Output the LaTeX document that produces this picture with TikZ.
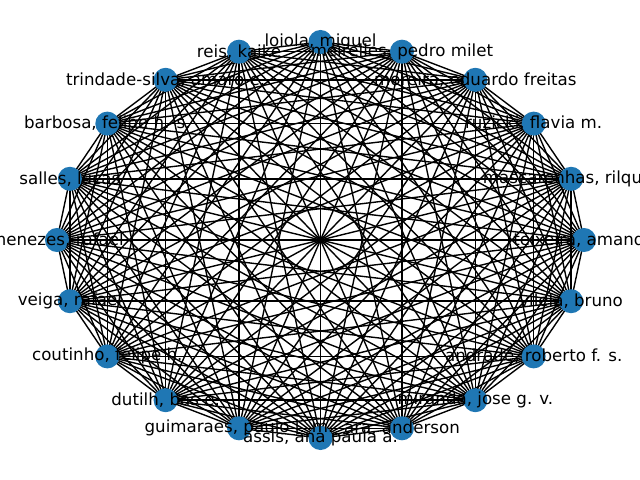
\documentclass[tikz,border=0pt]{standalone}
\usepackage{fontspec}
\setmainfont{DejaVu Sans}
\definecolor{nxblue}{HTML}{1F77B4}
\pgfdeclarelayer{bg}
\pgfsetlayers{bg,main}
\begin{document}
\begin{tikzpicture}[x=0.72pt,y=-0.72pt,
  vert/.style={circle,fill=nxblue,draw=none,minimum size=17.3pt,inner sep=0pt},
  lbl/.style={inner sep=0pt,font=\fontsize{12}{14}\selectfont,text=black},
  edge/.style={draw=black,line width=1pt}]
\useasboundingbox (0,0) rectangle (640,480);
\foreach \k in {0,...,19}
  \node[vert] (n\k) at ({320.5+263.5*cos(18*\k)},{240-198*sin(18*\k)}) {};
\begin{pgfonlayer}{bg}
\foreach \i in {0,...,18}{
  \pgfmathtruncatemacro{\s}{\i+1}
  \foreach \j in {\s,...,19}
    \draw[edge] (n\i.center) -- (n\j.center);
}
\end{pgfonlayer}
\node[lbl] (l0) at (n0) {teixeira, amanda};
\node[lbl] (l1) at (n1) {mascarenhas, rilquer};
\node[lbl] (l2) at (n2) {ruzicki, flavia m.};
\node[lbl] (l3) at (n3) {moreira, eduardo freitas};
\node[lbl] (l4) at (n4) {meirelles, pedro milet};
\node[lbl] (l5) at (n5) {loiola, miguel};
\node[lbl] (l6) at (n6) {reis, kaike};
\node[lbl] (l7) at (n7) {trindade-silva, amaro e.};
\node[lbl] (l8) at (n8) {barbosa, felipe h. s.};
\node[lbl] (l9) at (n9) {salles, lucas};
\node[lbl] (l10) at (n10) {menezes, rafael};
\node[lbl] (l11) at (n11) {veiga, rafael};
\node[lbl] (l12) at (n12) {coutinho, felipe h.};
\node[lbl] (l13) at (n13) {dutilh, bas e.};
\node[lbl] (l14) at (n14) {guimaraes, paulo l. m.};
\node[lbl] (l15) at (n15) {assis, ana paula a.};
\node[lbl] (l16) at (n16) {ara, anderson};
\node[lbl] (l17) at (n17) {miranda, jose g. v.};
\node[lbl] (l18) at (n18) {andrade, roberto f. s.};
\node[lbl] (l19) at (n19) {vilela, bruno};
\end{tikzpicture}
\end{document}
